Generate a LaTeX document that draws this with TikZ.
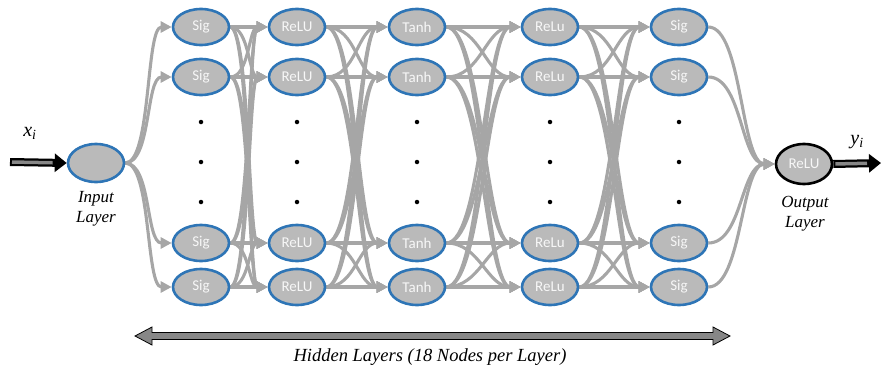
\documentclass[tikz,border=0pt]{standalone}
\usepackage{fontspec}
\setmainfont{Liberation Serif}
\newfontfamily\timesfont{Liberation Serif}
\newfontfamily\calibri{Carlito}
\usetikzlibrary{shapes.geometric,arrows.meta,backgrounds}
\definecolor{nodefill}{RGB}{186,186,186}
\definecolor{nodeblue}{RGB}{46,117,182}
\definecolor{linkgray}{RGB}{166,166,166}
\definecolor{bargray}{RGB}{135,135,135}
\begin{document}
\begin{tikzpicture}[x=1pt,y=-1pt,
  neuron/.style={ellipse, draw=nodeblue, line width=2.6pt, fill=nodefill,
    minimum width=56pt, minimum height=36pt, inner sep=0pt,
    font=\calibri\fontsize{15}{16}\selectfont, text=white!94!gray},
  outneuron/.style={neuron, draw=black},
  link/.style={draw=linkgray, line width=3.1pt, -{Triangle[length=11pt,width=11pt]}},
  lbl/.style={font=\timesfont\itshape\fontsize{17}{20}\selectfont, align=center},
  dotnode/.style={circle, fill=black, inner sep=0pt, minimum size=4.5pt}]
\useasboundingbox (0,0) rectangle (881,372);

% hidden layers
\foreach \c/\x/\t in {1/201/Sig,2/297/ReLU,3/417/Tanh,4/550/ReLu,5/679/Sig}{
  \foreach \r/\y in {1/27,2/77,3/243,4/287}{
    \node[neuron] (n\c\r) at (\x,\y) {\t};
  }
  \foreach \k/\y in {1/122,2/162,3/202}{
    \node[dotnode] (d\c\k) at (\x,\y) {};
  }
}

% input and output neurons
\node[neuron, minimum height=38pt] (inp) at (96,163) {};
\node[outneuron, minimum height=40pt] (outp) at (804,164) {ReLU};

\node[lbl] (inlbl) at (96,209) {Input\\Layer};
\node[lbl] (outlbl) at (805,214) {Output\\Layer};

% connections
\begin{pgfonlayer}{background}
  \foreach \j in {1,...,4}{
    \draw[link] (inp.east) to[out=0,in=180,max distance=26pt] (n1\j.west);
    \draw[link] (n5\j.east) to[out=0,in=180,max distance=34pt] (outp.west);
  }
  \foreach \c/\d/\m in {1/2/19,2/3/30,3/4/36,4/5/34}{
    \foreach \i in {1,...,4}{
      \foreach \j in {1,...,4}{
        \draw[link] (n\c\i.east) to[out=0,in=180,max distance=\m pt] (n\d\j.west);
      }
    }
  }
\end{pgfonlayer}

% input arrow
\coordinate (xs) at (10,162);
\draw[line width=8pt, -{Triangle[length=12pt,width=18pt]}] (xs) -- (inp.west);
\draw[line width=3.5pt, bargray, shorten <=2pt, shorten >=14pt] (xs) -- (inp.west);
\node[font=\timesfont\itshape\fontsize{20}{22}\selectfont] (xl) at (30,133) {x\textsubscript{i}};

% output arrow
\coordinate (ye) at (881,163);
\draw[line width=8pt, -{Triangle[length=12pt,width=18pt]}] (outp.east) -- (ye);
\draw[line width=3.5pt, bargray, shorten <=2pt, shorten >=14pt] (outp.east) -- (ye);
\node[font=\timesfont\itshape\fontsize{20}{22}\selectfont] (yl) at (857,142) {y\textsubscript{i}};

% hidden layers bar
\filldraw[fill=bargray, draw=black, line width=0.8pt]
  (135,336) -- (152,327) -- (152,332.5) -- (713,332.5) -- (713,327) -- (730,336)
  -- (713,345) -- (713,339.5) -- (152,339.5) -- (152,345) -- cycle;
\node[lbl, font=\timesfont\itshape\fontsize{18.5}{20}\selectfont] (hlbl) at (430,357) {Hidden Layers (18 Nodes per Layer)};
\end{tikzpicture}
\end{document}
